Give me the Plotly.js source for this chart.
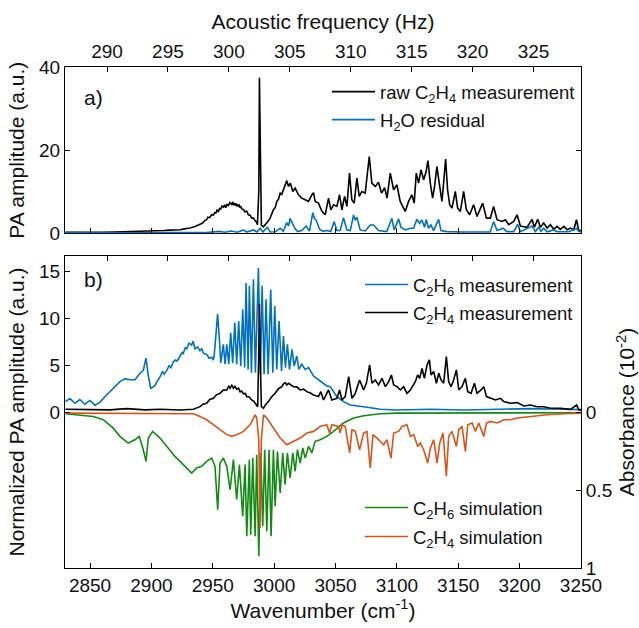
<!DOCTYPE html>
<html>
<head>
<meta charset="utf-8">
<script src="https://cdn.plot.ly/plotly-3.0.1.min.js"></script>
<style>html,body{margin:0;padding:0;background:#fff;}#chart{width:639px;height:628px;}</style>
</head>
<body>
<div id="chart"></div>
<script>
// ---------- Panel a) raw C2H4 measurement (PA amplitude, a.u.) ----------
const wnRaw = [2830,2840,2850,2860,2870,2880,2890,2900,2905,2910,2915,2920,2923.3,2927,2931.5,2935.5,2939.6,2941,2942,2943.5,2945,2946,2947.5,2949,2950.5,2951.5,2952.5,2953.5,2954.6,2955.5,2956.5,2957.5,2958.7,2959.6,2960.5,2961.5,2962.7,2963.8,2965.4,2966.3,2966.8,2967.5,2968.2,2969,2969.5,2970.2,2970.9,2971.6,2972.2,2973,2973.6,2975,2976.3,2977.6,2979,2980.4,2981.8,2983.2,2984.5,2985.5,2986.4,2987.5,2988,2988.8,2989.6,2991.3,2994,2995.5,2996.7,2998,2999.4,3000.8,3002.2,3003.5,3004.9,3006.2,3007.6,3009,3010.3,3011.7,3013.2,3015.2,3017.1,3019.8,3022.5,3025.3,3028,3030.7,3032.1,3033.4,3036.1,3038.9,3041.6,3044.3,3046.2,3048.4,3051.1,3053.3,3055.2,3057.4,3059.3,3061.4,3063.3,3065.2,3067.4,3069.3,3071.5,3074.2,3077.5,3079.6,3082.4,3085,3087.5,3090,3092,3094.6,3097.3,3100,3102.7,3106.8,3109.5,3112.2,3114.1,3115.8,3117.7,3119.6,3121.8,3123.7,3125.3,3127.2,3129.1,3130.7,3132.6,3134.5,3136.7,3138.3,3139.7,3141.3,3143,3144.9,3147.6,3149.5,3151.7,3154.4,3156.6,3159.3,3162.5,3165.3,3169.9,3172.9,3176.1,3178.8,3181.6,3185.6,3188.4,3191.1,3195.2,3197.9,3200.6,3206.1,3210.1,3212,3214.7,3216.9,3219.6,3222.4,3225.1,3227.8,3230.5,3233.2,3236,3238.7,3241.4,3244.1,3246.3,3248.2,3250];
const rawC2H4 = [0.3,0.25,0.3,0.3,0.35,0.4,0.45,0.55,0.6,0.7,0.8,0.8,0.9,1.1,1.3,1.7,2.1,2.4,2.6,3.1,3.3,3.9,3.8,4.5,4.4,5.0,4.9,5.6,5.3,6.0,5.9,6.6,6.3,6.9,6.2,7.1,6.6,7.4,7.0,7.6,6.8,7.3,6.9,7.2,6.5,7.0,6.6,6.9,6.2,6.5,5.9,5.8,5.2,5.4,4.5,4.4,3.7,3.7,3.1,2.8,2.1,10.5,37.4,10.5,2.0,1.6,2.4,3.1,3.7,4.6,5.7,6.2,7.7,8.2,9.7,9.4,10.5,11.2,12.7,11.3,12.1,10.1,10.9,9.3,8.5,8.1,7.7,9.3,9.8,7.7,7.3,5.3,4.5,8.5,5.7,6.9,6.5,9.3,5.7,8.9,6.5,14.5,8.1,7.3,13.3,8.9,10.1,9.7,18.5,12.1,11.3,12.3,9.7,11.0,8.5,14.5,10.5,11.7,7.7,5.3,7.7,9.3,7.3,14.5,12.1,15.3,12.9,14.7,17.5,12.1,8.5,11.3,16.1,12.1,7.7,12.9,17.9,10.5,6.9,6.1,10.1,6.1,5.3,10.1,5.7,4.5,6.9,4.1,7.3,3.7,3.7,6.5,3.3,2.9,3.3,2.1,2.9,4.5,1.8,1.5,3.4,1.5,3.4,1.5,2.5,1.3,2.1,1.0,1.7,1.0,1.7,0.9,1.3,0.9,3.3,0.7,0.7];

// ---------- Panel a) H2O residual ----------
const wnH2O = [2830,2850,2870,2890,2910,2930,2945,2955,2960,2965,2970,2975,2977.7,2983.1,2986,2988.6,2990.7,2994.5,2996.7,3001,3004.9,3007.5,3010.3,3011.7,3013,3014.9,3017,3019,3022.5,3026.1,3028.8,3031.5,3032.8,3034.2,3037,3040,3043,3046,3048.9,3051.1,3053.8,3056.5,3059.3,3062,3064.7,3066,3067.4,3070.1,3074.2,3078.3,3081,3085.1,3091.8,3095.9,3097.8,3101.4,3103.3,3106.8,3110.9,3113.6,3116.3,3118.5,3120.4,3122.6,3123.9,3125.8,3127.7,3129.9,3134,3135.9,3140.8,3154.4,3168,3176.1,3178.8,3181.6,3186.5,3189.7,3195.2,3198.4,3200.6,3210.1,3212.8,3215.6,3217.5,3219.6,3222.4,3227.8,3230.5,3240,3246.3,3248.2,3250];
const h2oResidual = [0.2,0.15,0.2,0.15,0.2,0.2,0.25,0.5,0.3,0.6,0.3,0.85,0.35,0.85,0.35,1.25,0.35,1.5,0.35,0.4,1.25,0.5,2.6,1.8,3.65,2.45,1.2,0.45,0.7,1.8,0.55,5.0,3.6,3.25,1.0,0.5,0.7,0.45,2.85,0.7,0.7,3.8,0.85,0.7,4.45,3.2,3.9,0.85,0.6,2.05,2.05,0.7,0.45,3.65,0.85,3.5,1.5,0.85,1.25,1.25,3.4,2.45,3.25,1.5,3.4,1.25,2.05,0.7,3.4,0.7,0.45,0.35,0.45,0.35,2.85,0.7,1.25,0.45,0.45,2.2,0.45,1.8,0.45,1.5,0.5,1.25,0.4,0.85,0.4,0.4,1.25,0.45,0.4];

// ---------- Panel b) C2H6 measurement (normalized PA amplitude) ----------
const wnC2H6meas = [2830,2833.6,2837.7,2841.7,2845.8,2849.9,2854,2858,2862.1,2866.2,2870.3,2874.4,2878.4,2882.5,2886.6,2890.7,2893.4,2895.6,2897.4,2899.4,2901,2902.9,2905,2907,2909,2910.5,2912.5,2914.5,2916,2917.8,2919.5,2921,2923.3,2925,2926,2927.5,2928.8,2930.5,2932.8,2934,2935.5,2937.5,2939.6,2941,2942.5,2945.1,2947,2949.2,2950.3,2951.1,2952.7,2953.9,2955.3,2956.5,2958.6,2960,2961.4,2963,2964.6,2966.2,2967.9,2969.5,2971.1,2972.8,2974.4,2976,2977.1,2978.8,2979.8,2981.5,2983.1,2984.7,2987.2,2988.8,2990.2,2991.8,2993.4,2995.1,2997.2,2998.9,3000.5,3002.1,3004,3006,3007.6,3009.2,3010.8,3012.5,3014.6,3016.3,3018.5,3020.1,3022.5,3025.3,3028,3032.1,3037.5,3042.9,3045.7,3051.1,3056.6,3062,3072.9,3086.5,3100.1,3127.3,3154.5,3181.7,3208.8,3236,3250];
const c2h6Meas = [1.17,1.5,1.0,1.4,0.9,1.3,0.8,1.1,1.7,2.2,2.8,3.3,3.6,3.5,3.5,4.2,4.5,5.8,4.0,2.6,2.7,2.9,3.4,3.8,4.4,4.1,4.5,5.0,4.8,5.4,5.6,5.5,6.0,6.4,6.3,6.9,6.8,7.4,7.2,7.6,6.8,7.0,6.6,6.8,6.3,6.2,5.8,5.9,5.6,6.0,8.5,10.5,8.0,5.3,7.27,5.15,7.27,5.15,8.5,5.3,9.6,5.15,9.75,4.97,11.0,4.8,13.8,4.6,13.5,4.26,14.2,4.26,15.4,4.08,13.5,4.08,12.06,4.08,13.1,4.26,11.35,4.6,9.75,4.44,8.16,4.8,7.27,4.6,6.74,4.97,6.03,4.6,5.15,4.6,4.8,3.9,3.37,2.84,2.77,1.71,1.18,0.82,0.64,0.36,0.29,0.36,0.29,0.33,0.43,0.36,0.33];

// ---------- Panel b) C2H4 measurement ----------
const wnC2H4meas = [2830,2852.6,2866,2879.8,2895,2907,2923.3,2934.2,2939.6,2942,2945,2947.5,2950.5,2953,2955.9,2958.5,2961.4,2963,2964,2965.5,2966.8,2968,2969.5,2971,2972.2,2973.5,2975,2976.5,2977.7,2979.5,2981.7,2983.5,2985.3,2986.6,2987.5,2988,2988.5,2989.6,2991.3,2993,2995.3,2998,3000.8,3003.5,3006.2,3007.5,3009,3010.3,3011.7,3013.5,3015.7,3018.5,3021.2,3024,3026.6,3029.5,3032.1,3036.1,3038,3040.2,3044.3,3047,3051.1,3053.3,3055.2,3057.9,3060.7,3063.4,3066.1,3069.6,3072.9,3075.1,3077.8,3079.7,3082.4,3085.1,3087.8,3090.6,3093.3,3095.5,3097.4,3100.1,3102.8,3105.5,3108.2,3111,3113.1,3115,3116.9,3118.6,3120.5,3122.4,3124.6,3126.5,3127.8,3130,3132.2,3134.1,3136,3138.1,3140.3,3142.2,3144.1,3145.8,3148.5,3150.4,3153.1,3155.8,3157.7,3160.4,3163.2,3165.3,3168.6,3170.8,3173,3176.2,3180.3,3184.4,3187.1,3192.5,3198,3203.4,3208.8,3214.3,3219.7,3225.2,3233.3,3241.5,3246.4,3248.3,3250];
const c2h4Meas = [0.36,0.36,0.3,0.43,0.3,0.36,0.29,0.36,0.64,0.9,1.0,1.4,1.53,1.9,2.06,2.4,2.42,2.8,2.6,2.9,2.59,2.8,2.49,2.6,2.24,2.3,2.0,2.05,1.71,1.7,1.35,1.2,0.82,0.64,6.7,11.6,6.7,0.64,0.47,0.85,1.18,1.7,2.06,2.55,2.77,3.05,3.2,2.95,3.13,3.0,2.77,2.75,2.42,2.5,2.24,2.1,1.89,1.71,2.24,1.35,2.42,1.35,1.53,2.42,1.35,1.71,3.84,1.53,2.06,3.48,2.42,3.13,5.08,3.13,3.48,2.95,3.66,2.77,3.3,4.01,2.95,2.77,2.42,2.77,2.06,2.42,2.95,3.3,4.01,3.66,4.72,3.66,5.08,5.61,4.01,4.37,3.13,4.19,3.48,3.13,5.96,3.3,2.77,3.3,4.55,2.42,2.77,3.66,2.24,2.06,3.13,2.06,2.42,2.77,1.71,1.53,1.35,1.53,1.18,1.0,1.07,0.71,0.82,0.64,0.64,0.47,0.47,0.36,0.82,0.29,0.3];

// ---------- Panel b) C2H6 simulation (absorbance, 10^-2) ----------
const wnC2H6sim = [2830,2841.7,2852.6,2860.8,2868.9,2874.3,2881.1,2886.6,2890.1,2893.4,2895.6,2897.5,2901,2907,2912.4,2919.2,2926,2932.8,2936.9,2941,2945,2949.1,2951.8,2954,2955.9,2958.6,2961.4,2964.1,2966.8,2969.5,2971.7,2974.4,2976.3,2977.7,2979.8,2980.9,2982.6,2984.5,2985.8,2987.5,2989.1,2990.7,2992.3,2994,2995.9,2997.5,2999.4,3000.8,3002.7,3004.9,3007,3008.9,3010.8,3013,3015.2,3017.1,3019,3021.2,3023.3,3025.3,3028,3030.7,3033.4,3037.5,3042.9,3048.4,3056.5,3064.7,3072.9,3086.5,3100.1,3150,3200,3250];
const c2h6Sim = [0.006,0.013,0.024,0.045,0.099,0.152,0.195,0.174,0.152,0.238,0.313,0.163,0.12,0.163,0.217,0.281,0.334,0.388,0.356,0.345,0.313,0.292,0.345,0.624,0.324,0.292,0.345,0.495,0.302,0.559,0.334,0.667,0.334,0.795,0.302,0.785,0.292,0.795,0.27,0.924,0.259,0.731,0.238,0.763,0.238,0.795,0.238,0.602,0.249,0.517,0.259,0.463,0.259,0.42,0.259,0.377,0.238,0.324,0.227,0.292,0.217,0.259,0.184,0.174,0.152,0.12,0.066,0.034,0.019,0.006,0.002,0.001,0.0,0.0];

// ---------- Panel b) C2H4 simulation ----------
const wnC2H4sim = [2830,2880,2928.7,2934.2,2939.6,2945,2950.5,2955.9,2961.4,2965.4,2969.5,2975,2980.4,2984.5,2985.8,2987.5,2988.5,2989.6,2991.3,2994,2999.4,3004.9,3010.3,3015.7,3021.2,3026.6,3032.1,3037.5,3042.9,3045.1,3047,3052.4,3053.8,3055.2,3057.9,3061.5,3063.4,3066.1,3069.6,3072.9,3075.6,3078.3,3080.5,3083.8,3086.5,3089.2,3091.9,3095.2,3097.4,3101.4,3104.2,3108.2,3111,3113.7,3117,3119.1,3121.8,3125.1,3127.3,3130,3132.7,3134.9,3137.6,3140.3,3142.2,3144.9,3148.5,3150.4,3153.1,3155.8,3157.7,3161.3,3164,3166.7,3170.8,3173,3176.2,3181.7,3187.1,3192.5,3198,3208.8,3222.4,3236,3250];
const c2h4Sim = [0.002,0.002,0.002,0.006,0.024,0.045,0.077,0.109,0.141,0.152,0.141,0.12,0.077,0.013,0.034,0.174,0.742,0.174,0.013,0.034,0.099,0.163,0.206,0.184,0.163,0.131,0.12,0.088,0.077,0.131,0.077,0.088,0.131,0.077,0.088,0.259,0.109,0.12,0.238,0.131,0.12,0.356,0.141,0.163,0.184,0.206,0.174,0.292,0.131,0.12,0.088,0.077,0.152,0.141,0.217,0.195,0.238,0.324,0.227,0.174,0.324,0.195,0.131,0.409,0.152,0.12,0.217,0.109,0.088,0.249,0.077,0.066,0.12,0.066,0.152,0.066,0.056,0.066,0.045,0.045,0.034,0.024,0.013,0.006,0.002];

// ---------- Axis ticks / labels ----------
const wnTicks = [2850,2900,2950,3000,3050,3100,3150,3200,3250];
const acousticTicks = [290,295,300,305,310,315,320,325];
const acousticRange = [286.55,328.9];
const wnRange = [2829.6,3250];
const paTicksA = [0,20,40];
const paTicksB = [0,5,10,15];
const absTicks = [0,0.5,1];
const absTickText = ['0','0.5','1'];

const FONT = 'Liberation Sans, Arial, Helvetica, sans-serif';
const C_BLUE = '#0072BD', C_BLACK = '#000000', C_GREEN = '#138a13', C_ORANGE = '#D95319';

const traces = [
  {x: wnRaw, y: rawC2H4, xaxis:'x2', yaxis:'y', type:'scatter', mode:'lines', name:'raw C<sub>2</sub>H<sub>4</sub> measurement', line:{color:C_BLACK,width:1.6}, legend:'legend'},
  {x: wnH2O, y: h2oResidual, xaxis:'x2', yaxis:'y', type:'scatter', mode:'lines', name:'H<sub>2</sub>O residual', line:{color:C_BLUE,width:1.6}, legend:'legend2'},
  {x: wnC2H6meas, y: c2h6Meas, xaxis:'x', yaxis:'y2', type:'scatter', mode:'lines', name:'C<sub>2</sub>H<sub>6</sub> measurement', line:{color:C_BLUE,width:1.6}, legend:'legend3'},
  {x: wnC2H4meas, y: c2h4Meas, xaxis:'x', yaxis:'y2', type:'scatter', mode:'lines', name:'C<sub>2</sub>H<sub>4</sub> measurement', line:{color:C_BLACK,width:1.6}, legend:'legend4'},
  {x: wnC2H6sim, y: c2h6Sim, xaxis:'x', yaxis:'y3', type:'scatter', mode:'lines', name:'C<sub>2</sub>H<sub>6</sub> simulation', line:{color:C_GREEN,width:1.6}, legend:'legend5'},
  {x: wnC2H4sim, y: c2h4Sim, xaxis:'x', yaxis:'y3', type:'scatter', mode:'lines', name:'C<sub>2</sub>H<sub>4</sub> simulation', line:{color:C_ORANGE,width:1.6}, legend:'legend6'},
  // empty traces so the acoustic-frequency axes (top of each panel) are created
  {x: [], y: [], xaxis:'x3', yaxis:'y', type:'scatter', mode:'lines', showlegend:false, hoverinfo:'skip'},
  {x: [], y: [], xaxis:'x4', yaxis:'y2', type:'scatter', mode:'lines', showlegend:false, hoverinfo:'skip'}
];

const axBase = {showline:true, linecolor:'#000', linewidth:1, ticks:'inside', ticklen:5, tickcolor:'#000', showgrid:false, zeroline:false, tickfont:{family:FONT,size:19,color:'#111'}};
const legBase = (x,y) => ({x:x, y:y, xref:'paper', yref:'paper', xanchor:'left', yanchor:'middle', bgcolor:'rgba(0,0,0,0)', borderwidth:0, itemwidth:43, font:{family:FONT,size:18.5,color:'#111'}});
const titleFont = {family:FONT,size:21,color:'#111'};

const layout = {
  width:639, height:628,
  margin:{l:65, r:58, t:67, b:60},
  paper_bgcolor:'#fff', plot_bgcolor:'#fff',
  font:{family:FONT, color:'#111'},
  showlegend:true,
  xaxis: Object.assign({}, axBase, {domain:[0,1], anchor:'y2', range:wnRange, tickvals:wnTicks,
    title:{text:'Wavenumber (cm<sup>-1</sup>)', font:titleFont, standoff:8}}),
  xaxis2: Object.assign({}, axBase, {domain:[0,1], anchor:'y', range:wnRange, tickvals:wnTicks, showticklabels:false}),
  xaxis3: Object.assign({}, axBase, {overlaying:'x2', anchor:'y', side:'top', range:acousticRange, tickvals:acousticTicks,
    title:{text:'Acoustic frequency (Hz)', font:titleFont, standoff:6}}),
  xaxis4: Object.assign({}, axBase, {overlaying:'x', anchor:'y2', side:'top', range:acousticRange, tickvals:acousticTicks, showticklabels:false}),
  yaxis: Object.assign({}, axBase, {domain:[0.6677,1], anchor:'x2', range:[0,40], tickvals:paTicksA, mirror:'ticks',
    title:{text:'PA amplitude (a.u.)', font:titleFont, standoff:8}}),
  yaxis2: Object.assign({}, axBase, {domain:[0,0.6228], anchor:'x', range:[-16.52,16.67], tickvals:paTicksB,
    title:{text:'Normalized PA amplitude (a.u.)', font:titleFont, standoff:8}}),
  yaxis3: Object.assign({}, axBase, {overlaying:'y2', anchor:'x', side:'right', range:[1.0,-1.01], tickvals:absTicks, ticktext:absTickText,
    title:{text:'Absorbance (10<sup>-2</sup>)', font:titleFont, standoff:8}}),
  legend: legBase(0.5078, 0.950),
  legend2: legBase(0.5078, 0.894),
  legend3: legBase(0.5717, 0.5649),
  legend4: legBase(0.5717, 0.509),
  legend5: legBase(0.5717, 0.1198),
  legend6: legBase(0.5717, 0.0619),
  annotations:[
    {text:'a)', xref:'paper', yref:'paper', x:0.033, y:0.940, xanchor:'left', yanchor:'middle', showarrow:false, font:titleFont},
    {text:'b)', xref:'paper', yref:'paper', x:0.033, y:0.575, xanchor:'left', yanchor:'middle', showarrow:false, font:titleFont}
  ]
};

Plotly.newPlot('chart', traces, layout, {displayModeBar:false, staticPlot:true});
</script>
</body>
</html>
